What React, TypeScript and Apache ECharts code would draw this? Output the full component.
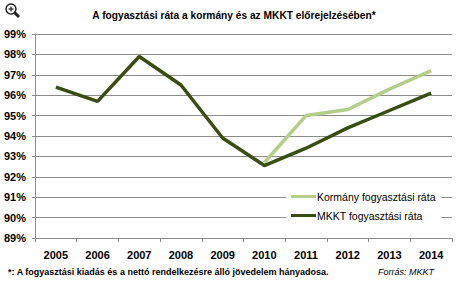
import React, { useEffect, useRef } from "react";
import * as echarts from "echarts";

const years = ["2005", "2006", "2007", "2008", "2009", "2010", "2011", "2012", "2013", "2014"];
const kormany = [null, null, null, null, null, 92.7, 95.0, 95.3, 96.3, 97.2];
const mkkt = [96.4, 95.7, 97.9, 96.5, 93.9, 92.55, 93.4, 94.4, 95.25, 96.1];
const titleText = "A fogyasztási ráta a kormány és az MKKT előrejelzésében*";
const footnote = "*: A fogyasztási kiadás és a nettó rendelkezésre álló jövedelem hányadosa.";
const source = "Forrás: MKKT";

const FONT = "Liberation Sans, Arial, sans-serif";

export default function App() {
  const ref = useRef<HTMLDivElement>(null);
  useEffect(() => {
    const chart = echarts.init(ref.current!, null, { renderer: "svg" });
    chart.setOption({
      animation: false,
      backgroundColor: "#fff",
      title: {
        text: titleText,
        left: 229,
        textAlign: "center",
        top: 5,
        textStyle: { fontFamily: FONT, fontSize: 10.2, fontWeight: "bold", color: "#000" },
      },
      grid: { left: 35, right: 6, top: 34, bottom: 50 },
      legend: {
        orient: "vertical",
        left: 286,
        top: 188,
        backgroundColor: "#fff",
        padding: [3, 6, 3, 5],
        itemGap: 8,
        itemWidth: 25,
        itemHeight: 3,
        icon: "rect",
        textStyle: { fontFamily: FONT, fontSize: 10.5, color: "#000", padding: [0, 0, 0, -4] },
        data: ["Kormány fogyasztási ráta", "MKKT fogyasztási ráta"],
      },
      xAxis: {
        type: "category",
        data: years,
        boundaryGap: true,
        axisLine: { lineStyle: { color: "#8c8c8c" } },
        axisTick: { show: true, length: 4, lineStyle: { color: "#8c8c8c" } },
        axisLabel: { fontFamily: FONT, fontSize: 11, fontWeight: "bold", color: "#000", margin: 11 },
      },
      yAxis: {
        type: "value",
        min: 89,
        max: 99,
        interval: 1,
        axisLine: { show: true, lineStyle: { color: "#8c8c8c" } },
        axisTick: { show: true, length: 3, lineStyle: { color: "#8c8c8c" } },
        axisLabel: {
          fontFamily: FONT,
          fontSize: 11,
          fontWeight: "bold",
          color: "#000",
          margin: 9,
          formatter: "{value}%",
        },
        splitLine: { lineStyle: { color: "#8c8c8c", width: 1 } },
      },
      series: [
        {
          name: "Kormány fogyasztási ráta",
          type: "line",
          data: kormany,
          symbol: "none",
          connectNulls: false,
          itemStyle: { color: "#b3cf8a" },
          lineStyle: { color: "#b3cf8a", width: 3.5 },
        },
        {
          name: "MKKT fogyasztási ráta",
          type: "line",
          data: mkkt,
          symbol: "none",
          itemStyle: { color: "#384f14" },
          lineStyle: { color: "#384f14", width: 3.5 },
        },
      ],
      graphic: [
        {
          type: "circle",
          shape: { cx: 11, cy: 9, r: 5 },
          style: { fill: "#fff", stroke: "#222", lineWidth: 1.5 },
        },
        {
          type: "line",
          shape: { x1: 8.5, y1: 9, x2: 13.5, y2: 9 },
          style: { stroke: "#222", lineWidth: 1.2 },
        },
        {
          type: "line",
          shape: { x1: 11, y1: 6.5, x2: 11, y2: 11.5 },
          style: { stroke: "#222", lineWidth: 1.2 },
        },
        {
          type: "line",
          shape: { x1: 14.5, y1: 12.5, x2: 19, y2: 17 },
          style: { stroke: "#222", lineWidth: 3 },
        },
        {
          type: "text",
          left: 8,
          top: 267,
          style: { text: footnote, font: `bold 9px ${FONT}`, fill: "#000" },
        },
        {
          type: "text",
          left: 378,
          top: 267,
          style: { text: source, font: `italic 9px ${FONT}`, fill: "#000" },
        },
      ],
    });
    return () => chart.dispose();
  }, []);
  return <div ref={ref} style={{ width: 458, height: 288, position: "absolute", left: 0, top: 0 }} />;
}
